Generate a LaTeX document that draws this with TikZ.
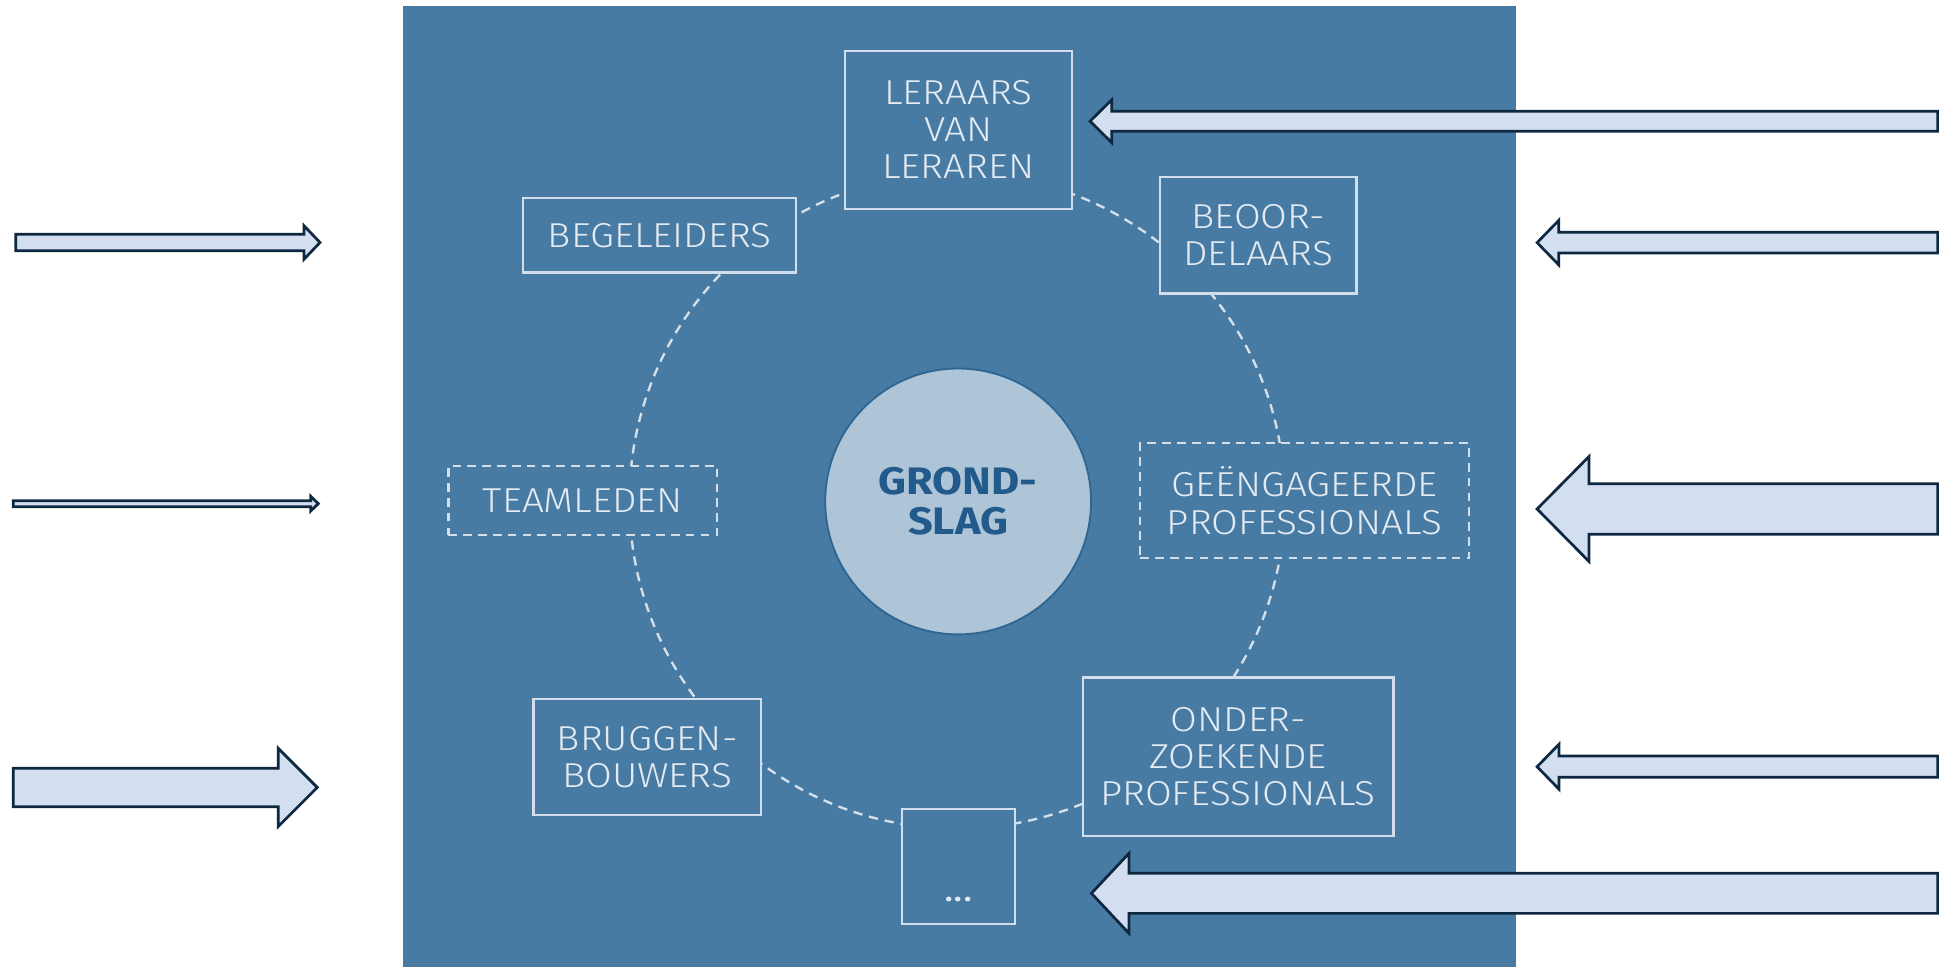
\documentclass[tikz,border=0pt]{standalone}
\usepackage{fontspec}
\setmainfont{Fira Sans}
\newfontfamily\lightfont{Fira Sans Light}[FakeStretch=1.12]
\newfontfamily\corefont{Fira Sans}[FakeStretch=1.13]
\definecolor{panelblue}{HTML}{477BA3}
\definecolor{boxline}{HTML}{D2DEEA}
\definecolor{labeltext}{HTML}{E3EAF2}
\definecolor{ringline}{HTML}{D5E0EA}
\definecolor{corefill}{HTML}{AEC4D7}
\definecolor{coreline}{HTML}{2E6693}
\definecolor{coretext}{HTML}{215A8B}
\definecolor{arrowfill}{HTML}{D3DEF0}
\definecolor{arrowline}{HTML}{0E2841}
\newcommand{\blockarrow}[6]{% tail x, head base x, tip x, centre y, shaft half, head half
  \draw[barrow] ({#1},{#4-#5}) -- ({#2},{#4-#5}) -- ({#2},{#4-#6}) -- ({#3},{#4})
    -- ({#2},{#4+#6}) -- ({#2},{#4+#5}) -- ({#1},{#4+#5}) -- cycle;}
\begin{document}
\begin{tikzpicture}[x=1pt,y=-1pt,
  role/.style={draw=boxline, line width=1.8pt, fill=panelblue, text=labeltext,
    font=\lightfont\fontsize{28}{30}\selectfont, align=center, inner sep=0pt},
  dashedrole/.style={role, dash pattern=on 7pt off 5pt},
  ring/.style={draw=ringline, line width=1.9pt, dash pattern=on 7.5pt off 5.5pt},
  core/.style={circle, fill=corefill, draw=coreline, line width=1.5pt,
    minimum size=215pt, text=coretext, font=\corefont\bfseries\fontsize{31}{32.3}\selectfont,
    align=center, inner sep=0pt},
  barrow/.style={fill=arrowfill, draw=arrowline, line width=2.2pt, line join=miter}]
\useasboundingbox (0,0) rectangle (1568,781.2);
% panel
\fill[panelblue] (325.9,4.9) rectangle (1225.6,782);
% centre and ring
\node[core] (core) at (774.8,405.5) {GROND-\\SLAG};
\draw[ring] (774,405) circle[radius=265];
% roles
\node[role, minimum width=184pt, minimum height=128pt] (lvl) at (775,105) {LERAARS\\VAN\\LERAREN};
\node[role, minimum width=221pt, minimum height=60pt] (beg) at (533.5,190.3) {BEGELEIDERS};
\node[role, minimum width=159pt, minimum height=94pt] (beo) at (1017.5,190.3) {BEOOR-\\DELAARS};
\node[dashedrole, minimum width=217.4pt, minimum height=55.6pt] (team) at (471.3,404.8) {TEAMLEDEN};
\node[dashedrole, minimum width=266pt, minimum height=92.8pt] (gee) at (1055,404.9) {GEËNGAGEERDE\\PROFESSIONALS};
\node[role, minimum width=184pt, minimum height=93.5pt] (brug) at (523.4,612.3) {BRUGGEN-\\BOUWERS};
\node[role, minimum width=251.4pt, minimum height=128pt] (ond) at (1001.2,611.8) {ONDER-\\ZOEKENDE\\PROFESSIONALS};
\node[role, minimum width=91.5pt, minimum height=93pt] (more) at (775,701) {};
\node[text=labeltext, font=\corefont\fontsize{28}{30}\selectfont, anchor=base, inner sep=0pt] (moretext) at (775,729) {...};
% block arrows, right side (pointing left)
\blockarrow{1567}{899}{881.5}{98}{8.1}{17.3}
\blockarrow{1567}{1260.5}{1243}{196.2}{8.4}{18}
\blockarrow{1567}{1285}{1243}{411.6}{20.5}{42.5}
\blockarrow{1567}{1260.7}{1243}{620}{8.6}{18.2}
\blockarrow{1567}{913}{882.6}{722.4}{16.2}{32.4}
% block arrows, left side (pointing right)
\blockarrow{12.7}{245.8}{258.8}{196.1}{6.6}{13.6}
\blockarrow{10.8}{251.2}{257.4}{407.3}{2.4}{6}
\blockarrow{10.8}{225}{256.6}{636.8}{15.5}{31.6}
\end{tikzpicture}
\end{document}
